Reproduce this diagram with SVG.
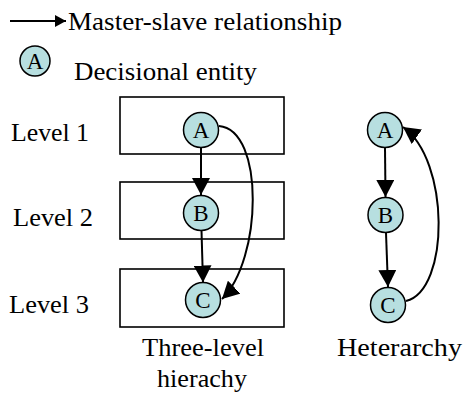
<svg xmlns="http://www.w3.org/2000/svg" width="463" height="395" viewBox="0 0 463 395">
  <defs>
    <marker id="head" markerUnits="userSpaceOnUse" viewBox="0 0 17 18" refX="17" refY="9" markerWidth="17" markerHeight="18" orient="auto">
      <path d="M0,0 L17,9 L0,18 z" fill="#000"/>
    </marker>
    <marker id="headSmall" markerUnits="userSpaceOnUse" viewBox="0 0 11 12" refX="11" refY="6" markerWidth="11" markerHeight="12" orient="auto">
      <path d="M0,0 L11,6 L0,12 z" fill="#000"/>
    </marker>
  </defs>

  <!-- legend -->
  <g id="legend">
    <line x1="10" y1="21" x2="66" y2="21" stroke="#000" stroke-width="2" marker-end="url(#headSmall)"/>
    <text x="68" y="30" font-family="Liberation Serif" font-size="25" textLength="274" lengthAdjust="spacingAndGlyphs">Master-slave relationship</text>
    <circle cx="35" cy="61" r="15" fill="#b7dfe0" stroke="#000" stroke-width="1.5"/>
    <text x="35" y="68.5" font-family="Liberation Serif" font-size="23" text-anchor="middle">A</text>
    <text x="74" y="80" font-family="Liberation Serif" font-size="25" textLength="183" lengthAdjust="spacingAndGlyphs">Decisional entity</text>
  </g>

  <!-- level frames -->
  <g id="levels">
    <g fill="none" stroke="#000" stroke-width="1.6">
      <rect x="120" y="97" width="164" height="57"/>
      <rect x="120" y="182" width="164" height="57"/>
      <rect x="120" y="269" width="164" height="58"/>
    </g>
    <text x="11" y="141" font-family="Liberation Serif" font-size="25" textLength="78" lengthAdjust="spacingAndGlyphs">Level 1</text>
    <text x="13" y="226" font-family="Liberation Serif" font-size="25" textLength="80" lengthAdjust="spacingAndGlyphs">Level 2</text>
    <text x="9" y="313" font-family="Liberation Serif" font-size="25" textLength="80" lengthAdjust="spacingAndGlyphs">Level 3</text>
  </g>

  <!-- connectors -->
  <g id="connectors" fill="none" stroke="#000" stroke-width="2" marker-end="url(#head)">
    <path d="M201,147.5 L201,195"/>
    <path d="M201.5,230.5 L203,282.5"/>
    <path d="M219,126 C265,130 262,260 222,299"/>
    <path d="M385,148 L385.5,197"/>
    <path d="M386,233 L388,287"/>
    <path d="M406,301 C450,290 450,160 403,127"/>
  </g>

  <!-- decisional entities -->
  <g id="h-A"><circle cx="201" cy="130" r="17.5" fill="#b7dfe0" stroke="#000" stroke-width="1.5"/><text x="201" y="137.5" font-family="Liberation Serif" font-size="23" text-anchor="middle">A</text></g>
  <g id="h-B"><circle cx="201" cy="213" r="17.5" fill="#b7dfe0" stroke="#000" stroke-width="1.5"/><text x="201" y="220.5" font-family="Liberation Serif" font-size="23" text-anchor="middle">B</text></g>
  <g id="h-C"><circle cx="203" cy="300" r="17.5" fill="#b7dfe0" stroke="#000" stroke-width="1.5"/><text x="203" y="307.5" font-family="Liberation Serif" font-size="23" text-anchor="middle">C</text></g>
  <g id="x-A"><circle cx="385" cy="130" r="17.5" fill="#b7dfe0" stroke="#000" stroke-width="1.5"/><text x="385" y="137.5" font-family="Liberation Serif" font-size="23" text-anchor="middle">A</text></g>
  <g id="x-B"><circle cx="385.5" cy="215" r="17.5" fill="#b7dfe0" stroke="#000" stroke-width="1.5"/><text x="385.5" y="222.5" font-family="Liberation Serif" font-size="23" text-anchor="middle">B</text></g>
  <g id="x-C"><circle cx="388" cy="305" r="17.5" fill="#b7dfe0" stroke="#000" stroke-width="1.5"/><text x="388" y="312.5" font-family="Liberation Serif" font-size="23" text-anchor="middle">C</text></g>

  <!-- captions -->
  <g id="captions">
    <text x="142" y="356" font-family="Liberation Serif" font-size="25" textLength="122" lengthAdjust="spacingAndGlyphs">Three-level</text>
    <text x="157" y="387" font-family="Liberation Serif" font-size="25" textLength="90" lengthAdjust="spacingAndGlyphs">hierachy</text>
    <text x="337" y="356" font-family="Liberation Serif" font-size="25" textLength="125" lengthAdjust="spacingAndGlyphs">Heterarchy</text>
  </g>
</svg>
